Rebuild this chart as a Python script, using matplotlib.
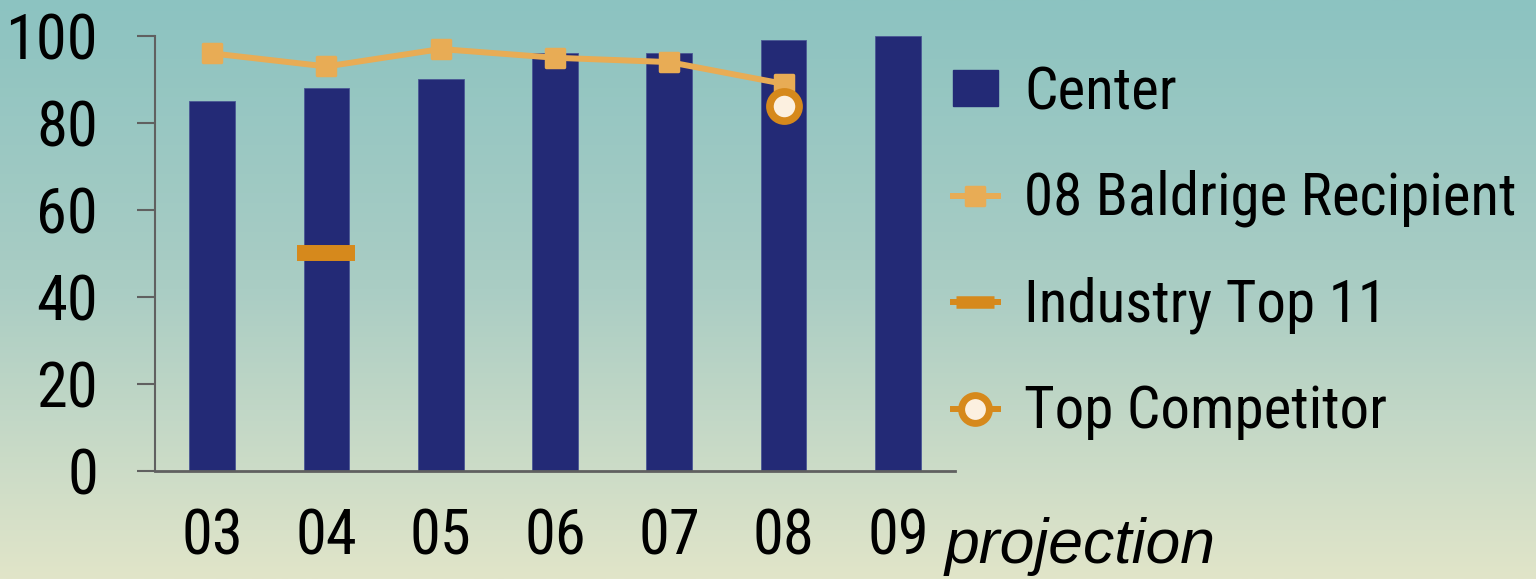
import numpy as np
import matplotlib
matplotlib.use("Agg")
import matplotlib.pyplot as plt
from matplotlib import font_manager
from matplotlib.lines import Line2D
from matplotlib.patches import Patch
from matplotlib.markers import MarkerStyle
from matplotlib.colors import LinearSegmentedColormap

# ---- data ----
years = ["03", "04", "05", "06", "07", "08", "09"]
center = [85, 88, 90, 96, 96, 99, 100]
baldrige = [96, 93, 97, 95, 94, 89, None]
industry_top11 = [None, 50, None, None, None, None, None]
top_competitor = [None, None, None, None, None, 84, None]
y_ticks = [0, 20, 40, 60, 80, 100]
labels = ["Center", "08 Baldrige Recipient", "Industry Top 11", "Top Competitor"]

# ---- fonts: a narrow sans, first one available ----
names = {f.name for f in font_manager.fontManager.ttflist}
preferred = ["Liberation Sans Narrow", "Arial Narrow", "Roboto Condensed",
             "Archivo Narrow", "PT Sans Narrow", "Sofia Sans Semi Condensed",
             "Liberation Sans"]
family = next(f for f in preferred if f in names)
plt.rcParams["font.family"] = [family, "DejaVu Sans"]

BAR = "#232a76"
BALD = "#e8ac55"
IND = "#d6891c"
COMP_FACE = "#fcf0e0"
AXIS = "#606060"
FS = 45
LEG_FS = 42.5

fig = plt.figure(figsize=(15.36, 5.79), dpi=100)

# gradient background
bg = fig.add_axes([0, 0, 1, 1], zorder=-10)
cmap = LinearSegmentedColormap.from_list(
    "bg", [(0.0, "#8cc3c1"), (0.5, "#aacdc4"), (1.0, "#e1e5c9")])
grad = np.linspace(0, 1, 256).reshape(-1, 1)
bg.imshow(grad, aspect="auto", cmap=cmap, extent=[0, 1, 0, 1], origin="upper")
bg.set_axis_off()

ax = fig.add_axes([155 / 1536, 1 - 471 / 579, 800 / 1536, 435 / 579])
ax.patch.set_alpha(0)

x = np.arange(len(years))
ax.bar(x, center, width=0.4, color=BAR, edgecolor="#4a5795", linewidth=0.6, zorder=2)

def series(vals):
    xs = [i for i, v in enumerate(vals) if v is not None]
    ys = [v for v in vals if v is not None]
    return xs, ys

bx, by = series(baldrige)
sq = MarkerStyle("s", joinstyle="round")
ax.plot(bx, by, color=BALD, lw=4.3, marker=sq, ms=13, mew=2.5,
        mfc=BALD, mec=BALD, zorder=3, solid_capstyle="round")

ix, iy = series(industry_top11)
ax.plot(ix, iy, color=IND, lw=4, marker="_", ms=42, mew=11.5, zorder=4,
        solid_capstyle="round")

cx, cy = series(top_competitor)
ax.plot(cx, cy, color=IND, lw=4, marker="o", ms=21, mew=5.5,
        mfc=COMP_FACE, mec=IND, zorder=5)

ax.set_xlim(-0.5, 6.5)
ax.set_ylim(0, 100)
ax.set_yticks(y_ticks)
ax.set_xticks(x)
ax.set_xticklabels(years)
ax.tick_params(axis="y", length=13, width=1.5, color=AXIS, labelsize=FS, pad=28)
ax.tick_params(axis="x", length=0, labelsize=FS, pad=26)
for s in ["top", "right"]:
    ax.spines[s].set_visible(False)
ax.spines["left"].set_color(AXIS)
ax.spines["left"].set_linewidth(1.5)
ax.spines["bottom"].set_color(AXIS)
ax.spines["bottom"].set_linewidth(2)

fig.text(945 / 1536, 1 - 563 / 579, "projection", fontsize=FS, style="italic",
         family=["Liberation Sans", "DejaVu Sans"], ha="left", va="baseline")

handles = [
    Patch(facecolor=BAR, edgecolor=BAR),
    Line2D([], [], color=BALD, lw=4.3, marker=sq, ms=13, mew=2.5, mfc=BALD, mec=BALD),
    Line2D([], [], color=IND, lw=4.3, marker="_", ms=28, mew=9),
    Line2D([], [], color=IND, lw=4.3, marker="o", ms=20, mew=5, mfc=COMP_FACE, mec=IND),
]
leg = fig.legend(handles, labels, loc="upper left",
                 bbox_to_anchor=(953 / 1536, 1 - 64 / 579),
                 frameon=False, fontsize=LEG_FS, handlelength=0.76, handleheight=0.56,
                 handletextpad=0.45, labelspacing=0.83, borderaxespad=0, borderpad=0)

fig.savefig("out.png", dpi=100)
